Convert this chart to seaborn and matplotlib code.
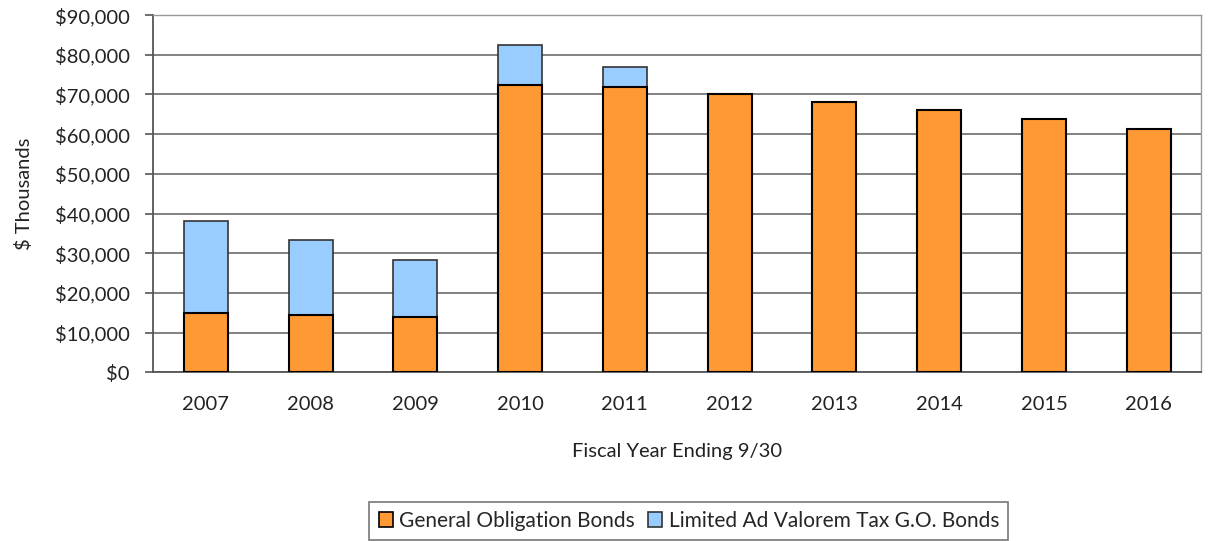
import matplotlib
matplotlib.use("Agg")
import matplotlib.pyplot as plt
import seaborn as sns
import pandas as pd
from matplotlib.patches import Patch
from matplotlib.ticker import FuncFormatter

years = ["2007", "2008", "2009", "2010", "2011", "2012", "2013", "2014", "2015", "2016"]
general_obligation = [15000, 14400, 13800, 72400, 71900, 70000, 68000, 66000, 63800, 61400]
limited_ad_valorem = [23200, 18900, 14400, 10000, 5100, 0, 0, 0, 0, 0]

df = pd.DataFrame({
    "year": years,
    "go": general_obligation,
    "lav": limited_ad_valorem,
})
df["total"] = df["go"] + df["lav"]

sns.set_theme(style="white")
plt.rcParams["font.family"] = ["Lato", "DejaVu Sans"]

fig = plt.figure(figsize=(12.17, 5.41), dpi=100)
ax = fig.add_axes([0.126, 0.312, 0.861, 0.66])

orange = "#FF9933"
blue = "#99CCFF"

sns.barplot(data=df, x="year", y="total", color=blue, edgecolor="#333333",
            linewidth=1.2, width=0.42, saturation=1, ax=ax, zorder=3)
sns.barplot(data=df, x="year", y="go", color=orange, edgecolor="black",
            linewidth=1.5, width=0.42, saturation=1, ax=ax, zorder=4)

ax.set_ylim(0, 90000)
ax.set_yticks(range(0, 90001, 10000))
ax.yaxis.set_major_formatter(FuncFormatter(lambda v, p: f"${v:,.0f}"))
ax.grid(axis="y", color="#777777", linewidth=1.3, zorder=0)
ax.set_axisbelow(True)
ax.set_xlim(-0.5, len(years) - 0.5)

for side in ["left", "bottom"]:
    ax.spines[side].set_color("#555555")
    ax.spines[side].set_linewidth(1.3)
for side in ["top", "right"]:
    ax.spines[side].set_color("#999999")
    ax.spines[side].set_linewidth(1.0)

ax.tick_params(axis="y", which="major", left=True, length=6, width=1.2,
               color="#555555", labelsize=14.5, pad=11, labelcolor="#222222")
ax.tick_params(axis="x", bottom=False, labelsize=14.5, pad=11, labelcolor="#222222")

ax.set_ylabel("$ Thousands", fontsize=14.5, color="#222222", labelpad=16)
ax.set_xlabel("Fiscal Year Ending 9/30", fontsize=14.5, color="#222222", labelpad=22)

handles = [
    Patch(facecolor=orange, edgecolor="black", linewidth=1.2, label="General Obligation Bonds"),
    Patch(facecolor=blue, edgecolor="#333333", linewidth=1.2, label="Limited Ad Valorem Tax G.O. Bonds"),
]
leg = fig.legend(handles=handles, loc="center", bbox_to_anchor=(0.566, 0.037), ncol=2,
                 fontsize=15, frameon=True, fancybox=False, handlelength=0.7,
                 handleheight=0.7, handletextpad=0.3, columnspacing=0.6,
                 borderpad=0.45, edgecolor="#555555")
leg.get_frame().set_linewidth(1.2)

fig.savefig("out.png", dpi=100)
